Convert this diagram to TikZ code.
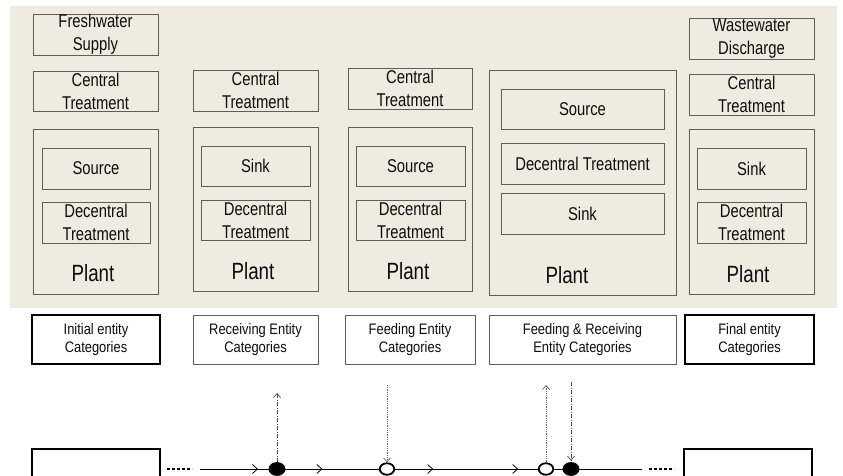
\documentclass[tikz,border=0pt]{standalone}
\usepackage{fontspec}
\setmainfont[FakeStretch=0.8]{Liberation Sans}
\newfontfamily\catfont[FakeStretch=0.85]{Liberation Sans}
\usetikzlibrary{arrows.meta,decorations.markings,shapes.geometric}
\definecolor{bgc}{HTML}{EEECE1}
\definecolor{edgec}{HTML}{5E5E56}
\definecolor{txtc}{HTML}{0D0D0D}
\tikzset{
  chev/.tip={Straight Barb[length=5pt,width=9pt,line width=0.8pt]},
  vtip/.tip={Straight Barb[length=4pt,width=7pt,line width=0.7pt]},
}
\begin{document}
\begin{tikzpicture}[x=1pt,y=-1pt,
  bx/.style={draw=edgec, line width=0.8pt, inner sep=0pt, align=center, text=txtc,
             font=\fontsize{18.5}{23}\selectfont},
  plantlbl/.style={anchor=base, inner sep=0pt, text=txtc, font=\fontsize{23.5}{27}\selectfont},
  cat/.style={draw=edgec, line width=0.8pt, fill=white, inner sep=0pt, align=center,
              minimum height=49pt, text=txtc, font=\catfont\fontsize{15.2}{18}\selectfont},
  catbold/.style={cat, draw=black, line width=1.4pt},
  endbox/.style={draw=black, line width=1.4pt, inner sep=0pt, minimum height=60pt},
  flow/.style={line width=0.9pt, draw=black},
  fdot/.style={ellipse, fill=black, draw=black, line width=0.8pt, minimum width=16pt, minimum height=13pt, inner sep=0pt},
  odot/.style={ellipse, fill=white, draw=black, line width=1.8pt, minimum width=14.5pt, minimum height=11.5pt, inner sep=0pt},
  dashdotline/.style={line width=0.9pt, draw=black!70, dash pattern=on 4pt off 1.5pt on 1pt off 1.5pt},
  dotline/.style={line width=0.9pt, draw=black!60, dash pattern=on 1pt off 0.8pt},
  ellip/.style={line width=2.2pt, draw=black, dash pattern=on 2.5pt off 2.5pt},
]
\useasboundingbox (0,0) rectangle (843,476);
\fill[white] (0,0) rectangle (843,476);
\fill[bgc] (10,6) rectangle (837,308);

% column 1
\node[bx, minimum width=125pt, minimum height=41pt] (fs) at (95.5,34.5) {Freshwater\\Supply};
\node[bx, minimum width=125pt, minimum height=40pt] (ct1) at (95.5,91) {Central\\Treatment};
\node[bx, minimum width=125pt, minimum height=165pt] (pl1) at (95.5,211.5) {};
\node[bx, minimum width=108pt, minimum height=41pt] (so1) at (96,168.5) {Source};
\node[bx, minimum width=108pt, minimum height=41pt] (dt1) at (96,222.5) {Decentral\\Treatment};
\node[plantlbl] (pt1) at (93,281) {Plant};

% column 2
\node[bx, minimum width=125pt, minimum height=41pt] (ct2) at (255.5,90.5) {Central\\Treatment};
\node[bx, minimum width=125pt, minimum height=164pt] (pl2) at (255.5,209) {};
\node[bx, minimum width=109pt, minimum height=40pt] (si2) at (255.5,166) {Sink};
\node[bx, minimum width=109pt, minimum height=40pt] (dt2) at (255.5,220) {Decentral\\Treatment};
\node[plantlbl] (pt2) at (253,279) {Plant};

% column 3
\node[bx, minimum width=124pt, minimum height=41pt] (ct3) at (410,88.5) {Central\\Treatment};
\node[bx, minimum width=124pt, minimum height=164pt] (pl3) at (410,209) {};
\node[bx, minimum width=109pt, minimum height=40pt] (so3) at (410.5,166) {Source};
\node[bx, minimum width=109pt, minimum height=40pt] (dt3) at (410.5,220) {Decentral\\Treatment};
\node[plantlbl] (pt3) at (408,279) {Plant};

% column 4
\node[bx, minimum width=187pt, minimum height=225pt] (pl4) at (582.5,182.5) {};
\node[bx, minimum width=163pt, minimum height=40pt] (so4) at (582.5,109) {Source};
\node[bx, minimum width=163pt, minimum height=41pt] (dt4) at (582.5,163.5) {Decentral Treatment};
\node[bx, minimum width=163pt, minimum height=41pt] (si4) at (582.5,213.5) {Sink};
\node[plantlbl] (pt4) at (567,283) {Plant};

% column 5
\node[bx, minimum width=125pt, minimum height=41pt] (ww) at (751.5,38.5) {Wastewater\\Discharge};
\node[bx, minimum width=125pt, minimum height=41pt] (ct5) at (751.5,94.5) {Central\\Treatment};
\node[bx, minimum width=125pt, minimum height=165pt] (pl5) at (751.5,211.5) {};
\node[bx, minimum width=109pt, minimum height=41pt] (si5) at (751.5,168.5) {Sink};
\node[bx, minimum width=109pt, minimum height=41pt] (dt5) at (751.5,222.5) {Decentral\\Treatment};
\node[plantlbl] (pt5) at (748,282) {Plant};

% categories
\node[catbold, minimum width=128pt] (c1) at (96,339.5) {Initial entity\\Categories};
\node[cat, minimum width=125pt] (c2) at (255.5,339.5) {Receiving Entity\\Categories};
\node[cat, minimum width=130pt] (c3) at (410,339.5) {Feeding Entity\\Categories};
\node[cat, minimum width=187pt] (c4) at (582.5,339.5) {Feeding \& Receiving\\Entity Categories};
\node[catbold, minimum width=129pt] (c5) at (749.5,339.5) {Final entity\\Categories};

% bottom flow
\node[endbox, minimum width=128pt] (lb) at (96,479) {};
\node[endbox, minimum width=128pt] (rb) at (748,479) {};

\coordinate (d1a) at (167,469);
\coordinate (d1b) at (192,469);
\coordinate (d2a) at (649,469);
\coordinate (d2b) at (674,469);
\draw[ellip] (d1a) -- (d1b);
\draw[ellip] (d2a) -- (d2b);

\node[fdot] (fd1) at (277,469) {};
\node[odot] (oc1) at (387,469) {};
\node[odot] (oc2) at (546,469) {};
\node[fdot] (fd2) at (571,469) {};
\coordinate (ls) at (200,469);
\coordinate (le) at (642,469);

\draw[flow, postaction={decorate}, decoration={markings, mark=at position 58pt with {\arrow{chev}}}] (ls) -- (fd1);
\draw[flow, postaction={decorate}, decoration={markings, mark=at position 37pt with {\arrow{chev}}}] (fd1) -- (oc1);
\draw[flow, postaction={decorate}, decoration={markings, mark=at position 38pt with {\arrow{chev}}, mark=at position 123pt with {\arrow{chev}}}] (oc1) -- (oc2);
\draw[flow] (oc2) -- (fd2);
\draw[flow] (fd2) -- (le);

\coordinate (v1e) at (277,393);
\coordinate (v2s) at (387,385);
\coordinate (v3e) at (546,385);
\coordinate (v4s) at (571,382);
\draw[dashdotline, -{vtip}] (fd1) -- (v1e);
\draw[dotline, -{vtip}] (v2s) -- (oc1);
\draw[dotline, -{vtip}] (oc2) -- (v3e);
\draw[dashdotline, -{vtip}, shorten >=1.5pt] (v4s) -- (fd2);
\end{tikzpicture}
\end{document}
